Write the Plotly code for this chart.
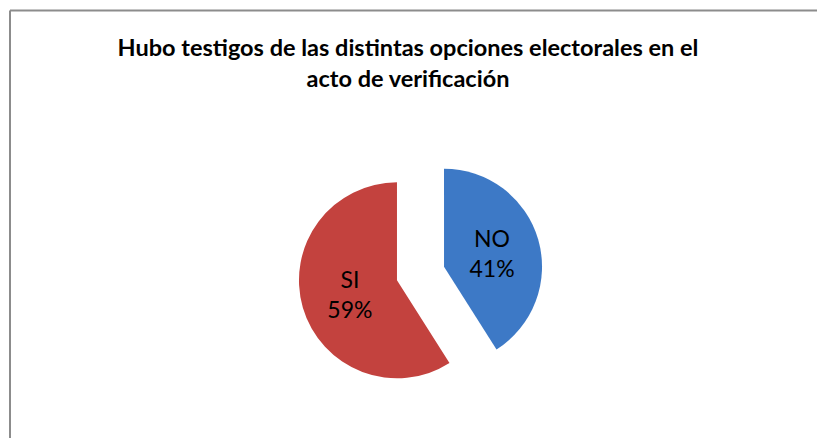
import plotly.graph_objects as go

# Pie data
labels = ["NO", "SI"]
values = [41, 59]
slice_colors = ["#3D79C6", "#C3423E"]
pulls = [0.25, 0.25]

title_lines = [
    "Hubo testigos de las distintas opciones electorales en el",
    "acto de verificación",
]

W, H = 817, 438

fig = go.Figure(
    go.Pie(
        labels=labels,
        values=values,
        sort=False,
        direction="clockwise",
        rotation=0,
        pull=pulls,
        marker={"colors": slice_colors, "line": {"width": 0}},
        textinfo="label+percent",
        texttemplate="%{label}<br>%{percent:.0%}",
        textposition="inside",
        insidetextorientation="horizontal",
        textfont={"family": "Lato, sans-serif", "size": 23, "color": "#000000"},
        showlegend=False,
        hoverinfo="label+percent",
        domain={"x": [298 / W, 543 / W], "y": [42 / H, 287 / H]},
    )
)

# Chart frame (only top and left edges visible in the crop)
frame = {"color": "#8C8C8C", "width": 2}
fig.add_shape(type="line", xref="paper", yref="paper",
              x0=10 / W, x1=1.0, y0=1 - 10.5 / H, y1=1 - 10.5 / H, line=frame)
fig.add_shape(type="line", xref="paper", yref="paper",
              x0=10 / W, x1=10 / W, y0=0, y1=1 - 10.5 / H, line=frame)

fig.update_layout(
    width=W,
    height=H,
    margin={"l": 0, "r": 0, "t": 0, "b": 0},
    paper_bgcolor="white",
    plot_bgcolor="white",
    title={
        "text": "<br>".join(title_lines),
        "x": 408 / W,
        "xanchor": "center",
        "y": 1 - 56 / H,
        "yanchor": "top",
        "font": {"family": "Lato, sans-serif", "size": 23.5, "color": "#000000",
                 "weight": "bold"},
    },
)

# Drop the default page margin so the figure sits at the window origin.
fig.write_html(
    "out.html",
    config={"displayModeBar": False},
    post_script="document.body.style.margin='0';document.body.style.overflow='hidden';",
)
